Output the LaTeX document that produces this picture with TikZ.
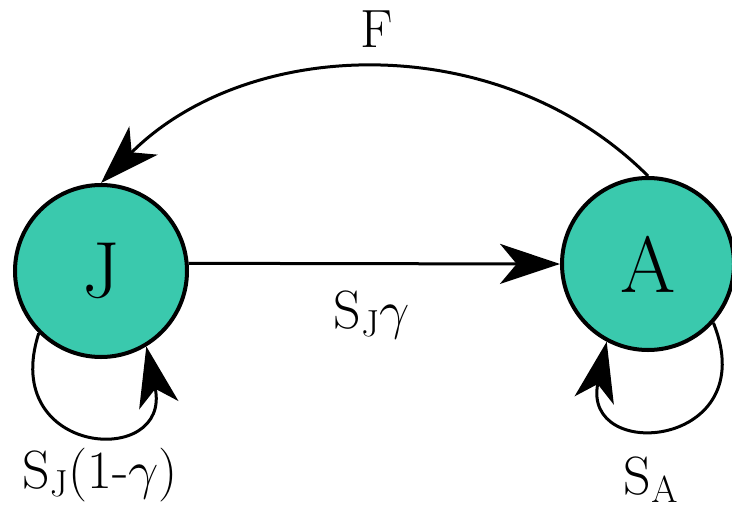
\RequirePackage{fix-cm}
\documentclass[tikz,border=0pt]{standalone}
\usetikzlibrary{arrows.meta}
\definecolor{stagefill}{RGB}{58,201,173}
\begin{document}
\begin{tikzpicture}[x=0.3mm,y=0.3mm,
  stage/.style={circle,draw,fill=stagefill,line width=1.2mm,minimum size=51.6mm,inner sep=0pt,font=\fontsize{68}{68}\selectfont},
  flow/.style={line width=0.9mm,-{Stealth[length=18mm,width=12mm,inset=5mm]}},
  rate/.style={anchor=base,font=\fontsize{46}{46}\selectfont}]
  \useasboundingbox (0,0) rectangle (732,504);
  \node[stage] (J) at (101,233) {J};
  \node[stage] (A) at (648,240) {A};
  \draw[flow] (J.5) -- (A.west);
  \draw[flow] (A.north) .. controls +(135:209) and +(45:209) .. (J.north);
  \draw[flow] (J.-135) .. controls +(-108:130) and +(-78:125) .. (J.-59);
  \draw[flow] (A.-42) .. controls +(-68:135) and +(-102:125) .. (A.-118);
  \node[rate] (fec) at (377,457) {F};
  \node[rate] (mat) at (372,176) {S$_{\mathrm{J}}\gamma$};
  \node[rate] (stayj) at (100,16) {S$_{\mathrm{J}}$(1-$\gamma$)};
  \node[rate] (staya) at (651,10) {S$_{\mathrm{A}}$};
\end{tikzpicture}
\end{document}
